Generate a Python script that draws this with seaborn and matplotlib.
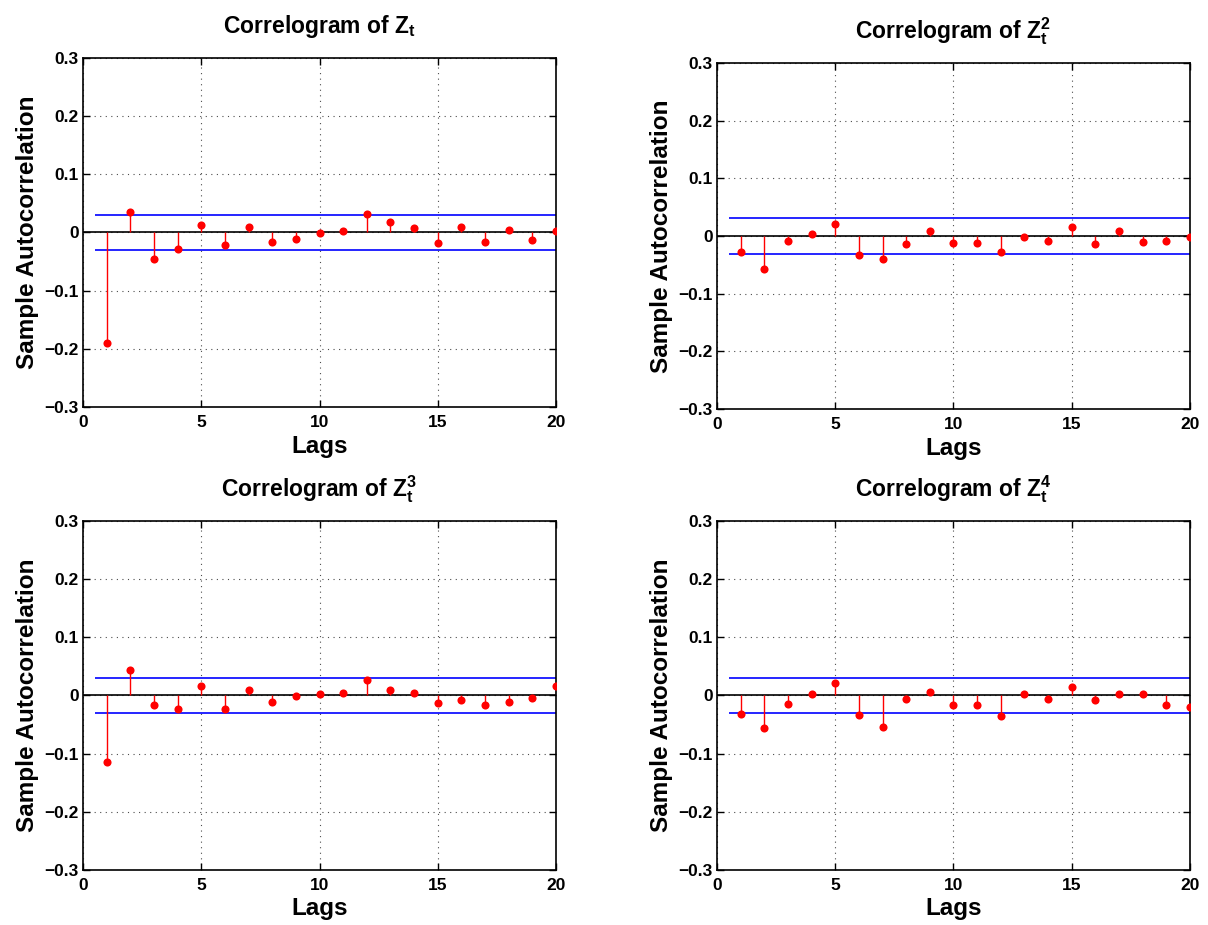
import matplotlib
matplotlib.use("Agg")
import matplotlib.pyplot as plt
import seaborn as sns
import pandas as pd

# sample autocorrelations, lags 1..20
lags = list(range(1, 21))
acf_z1 = [-0.190, 0.036, -0.045, -0.028, 0.013, -0.021, 0.009, -0.017, -0.011, -0.001,
          0.002, 0.031, 0.018, 0.007, -0.018, 0.009, -0.016, 0.004, -0.013, 0.003]
acf_z2 = [-0.027, -0.057, -0.008, 0.004, 0.021, -0.032, -0.040, -0.013, 0.008, -0.012,
          -0.012, -0.027, -0.002, -0.008, 0.015, -0.014, 0.008, -0.010, -0.009, -0.002]
acf_z3 = [-0.114, 0.043, -0.017, -0.024, 0.016, -0.024, 0.010, -0.011, -0.001, 0.003,
          0.005, 0.026, 0.009, 0.004, -0.013, -0.007, -0.017, -0.011, -0.005, 0.017]
acf_z4 = [-0.032, -0.056, -0.014, 0.002, 0.021, -0.033, -0.055, -0.006, 0.006, -0.017,
          -0.016, -0.036, 0.002, -0.006, 0.015, -0.007, 0.002, 0.002, -0.016, -0.020]
conf_bound = 0.0305
titles = [r"Correlogram of $\mathbf{Z_t}$", r"Correlogram of $\mathbf{Z_t^2}$",
          r"Correlogram of $\mathbf{Z_t^3}$", r"Correlogram of $\mathbf{Z_t^4}$"]
series = [acf_z1, acf_z2, acf_z3, acf_z4]

sns.set_theme(style="white")
plt.rcParams["font.family"] = ["Liberation Sans", "DejaVu Sans"]
plt.rcParams["font.weight"] = "bold"
plt.rcParams["mathtext.fontset"] = "custom"
plt.rcParams["mathtext.bf"] = "Liberation Sans:bold"
plt.rcParams["mathtext.rm"] = "Liberation Sans:bold"
plt.rcParams["axes.unicode_minus"] = True
# MATLAB-style pure black text
for key in ["text.color", "axes.labelcolor", "xtick.color", "ytick.color",
            "xtick.labelcolor", "ytick.labelcolor"]:
    plt.rcParams[key] = "black"

fig = plt.figure(figsize=(12.08, 9.25), dpi=100)

# axes boxes in figure fractions (left, bottom, width, height)
boxes = [
    (0.0687, 0.560, 0.3916, 0.3773),
    (0.5935, 0.5578, 0.3916, 0.374),
    (0.0687, 0.0595, 0.3916, 0.3773),
    (0.5935, 0.0595, 0.3916, 0.3773),
]

for box, title, vals in zip(boxes, titles, series):
    ax = fig.add_axes(box)
    df = pd.DataFrame({"lag": lags, "acf": vals})

    ax.vlines(df["lag"], 0, df["acf"], color="red", lw=1.0, zorder=2)
    sns.scatterplot(data=df, x="lag", y="acf", ax=ax, color="red", s=34,
                    edgecolor="red", linewidth=0, zorder=3)
    ax.axhline(0, color="black", lw=1.2, zorder=1)
    ax.hlines([conf_bound, -conf_bound], 0.5, 20, color="blue", lw=1.2, zorder=1)

    ax.set_xlim(0, 20)
    ax.set_ylim(-0.3, 0.3)
    ax.set_xticks([0, 5, 10, 15, 20])
    ax.set_yticks([-0.3, -0.2, -0.1, 0, 0.1, 0.2, 0.3])
    ax.set_yticklabels(["\u22120.3", "\u22120.2", "\u22120.1", "0", "0.1", "0.2", "0.3"])
    ax.grid(True, linestyle=(0, (1, 4)), color="black", lw=0.8, alpha=0.7)
    ax.set_axisbelow(True)
    ax.tick_params(direction="in", length=5, width=1, labelsize=12.5,
                   colors="black", top=True, right=True, bottom=True, left=True)
    ax.tick_params(axis="x", pad=6)
    ax.tick_params(axis="y", pad=3)
    for lab in ax.get_xticklabels() + ax.get_yticklabels():
        lab.set_fontweight("bold")
    for sp in ax.spines.values():
        sp.set_color("black")
        sp.set_linewidth(1.2)

    ax.set_xlabel("Lags", fontsize=17.5, fontweight="bold", labelpad=3, color="black")
    ax.set_ylabel("Sample Autocorrelation", fontsize=17.5, fontweight="bold",
                  labelpad=4, color="black")
    ax.set_title(title, fontsize=16.5, fontweight="bold", pad=18, color="black")

fig.savefig("out.png", dpi=100, facecolor="white")
